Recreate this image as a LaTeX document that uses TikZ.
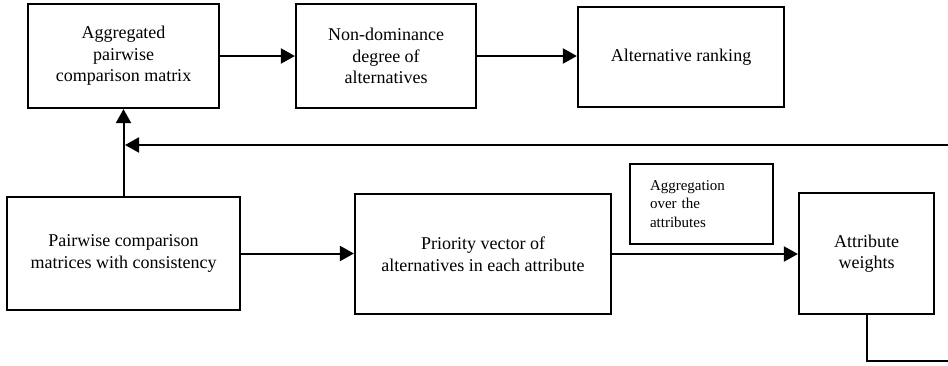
\documentclass[tikz,border=0pt]{standalone}
\usepackage{fontspec}
\setmainfont{Liberation Serif}
\usetikzlibrary{arrows.meta}
\begin{document}
\begin{tikzpicture}[x=1pt,y=-1pt,
  box/.style={draw=black,line width=2.2pt,align=center,inner sep=0pt,
    font=\fontsize{18}{21.5}\selectfont},
  note/.style={draw=black,line width=1.5pt,inner xsep=20pt,inner ysep=0pt,
    align=left,font=\fontsize{15}{18.7}\selectfont},
  arr/.style={line width=2pt,-{Triangle[length=14pt,width=15pt]}},
  ln/.style={line width=2pt}]
\useasboundingbox (0,0) rectangle (948,365);
% top row
\node[box,minimum width=191pt,minimum height=104pt] (A) at (123.5,56) {Aggregated\\pairwise\\comparison matrix};
\node[box,minimum width=180pt,minimum height=104pt] (B) at (386,56) {Non-dominance\\degree of\\alternatives};
\node[box,minimum width=206pt,minimum height=100pt] (C) at (681,57) {Alternative ranking};
% bottom row
\node[box,minimum width=233pt,minimum height=113pt] (D) at (123.5,253.5) {Pairwise comparison\\matrices with consistency};
\node[box,minimum width=256pt,minimum height=120pt] (E) at (483,254) {Priority vector of\\alternatives in each attribute};
\node[box,minimum width=135pt,minimum height=121pt] (G) at (866.5,253.5) {Attribute\\weights};
\node[note,text width=103pt,minimum height=80pt] (F) at (701.5,204) {Aggregation\\over the\\attributes};
% connectors
\draw[arr] (A.east) -- (A.east -| B.west);
\draw[arr] (B.east) -- (B.east -| C.west);
\draw[arr] (D.east) -- (D.east -| E.west);
\draw[arr] (E.east) -- (E.east -| G.west);
\draw[arr] (D.north) -- (A.south);
\coordinate (fbR) at (948,145);
\coordinate (fbL) at (125,145);
\draw[arr] (fbR) -- (fbL);
\coordinate (lowR) at (948,361);
\draw[ln] (G.south) |- (lowR);
\end{tikzpicture}
\end{document}
